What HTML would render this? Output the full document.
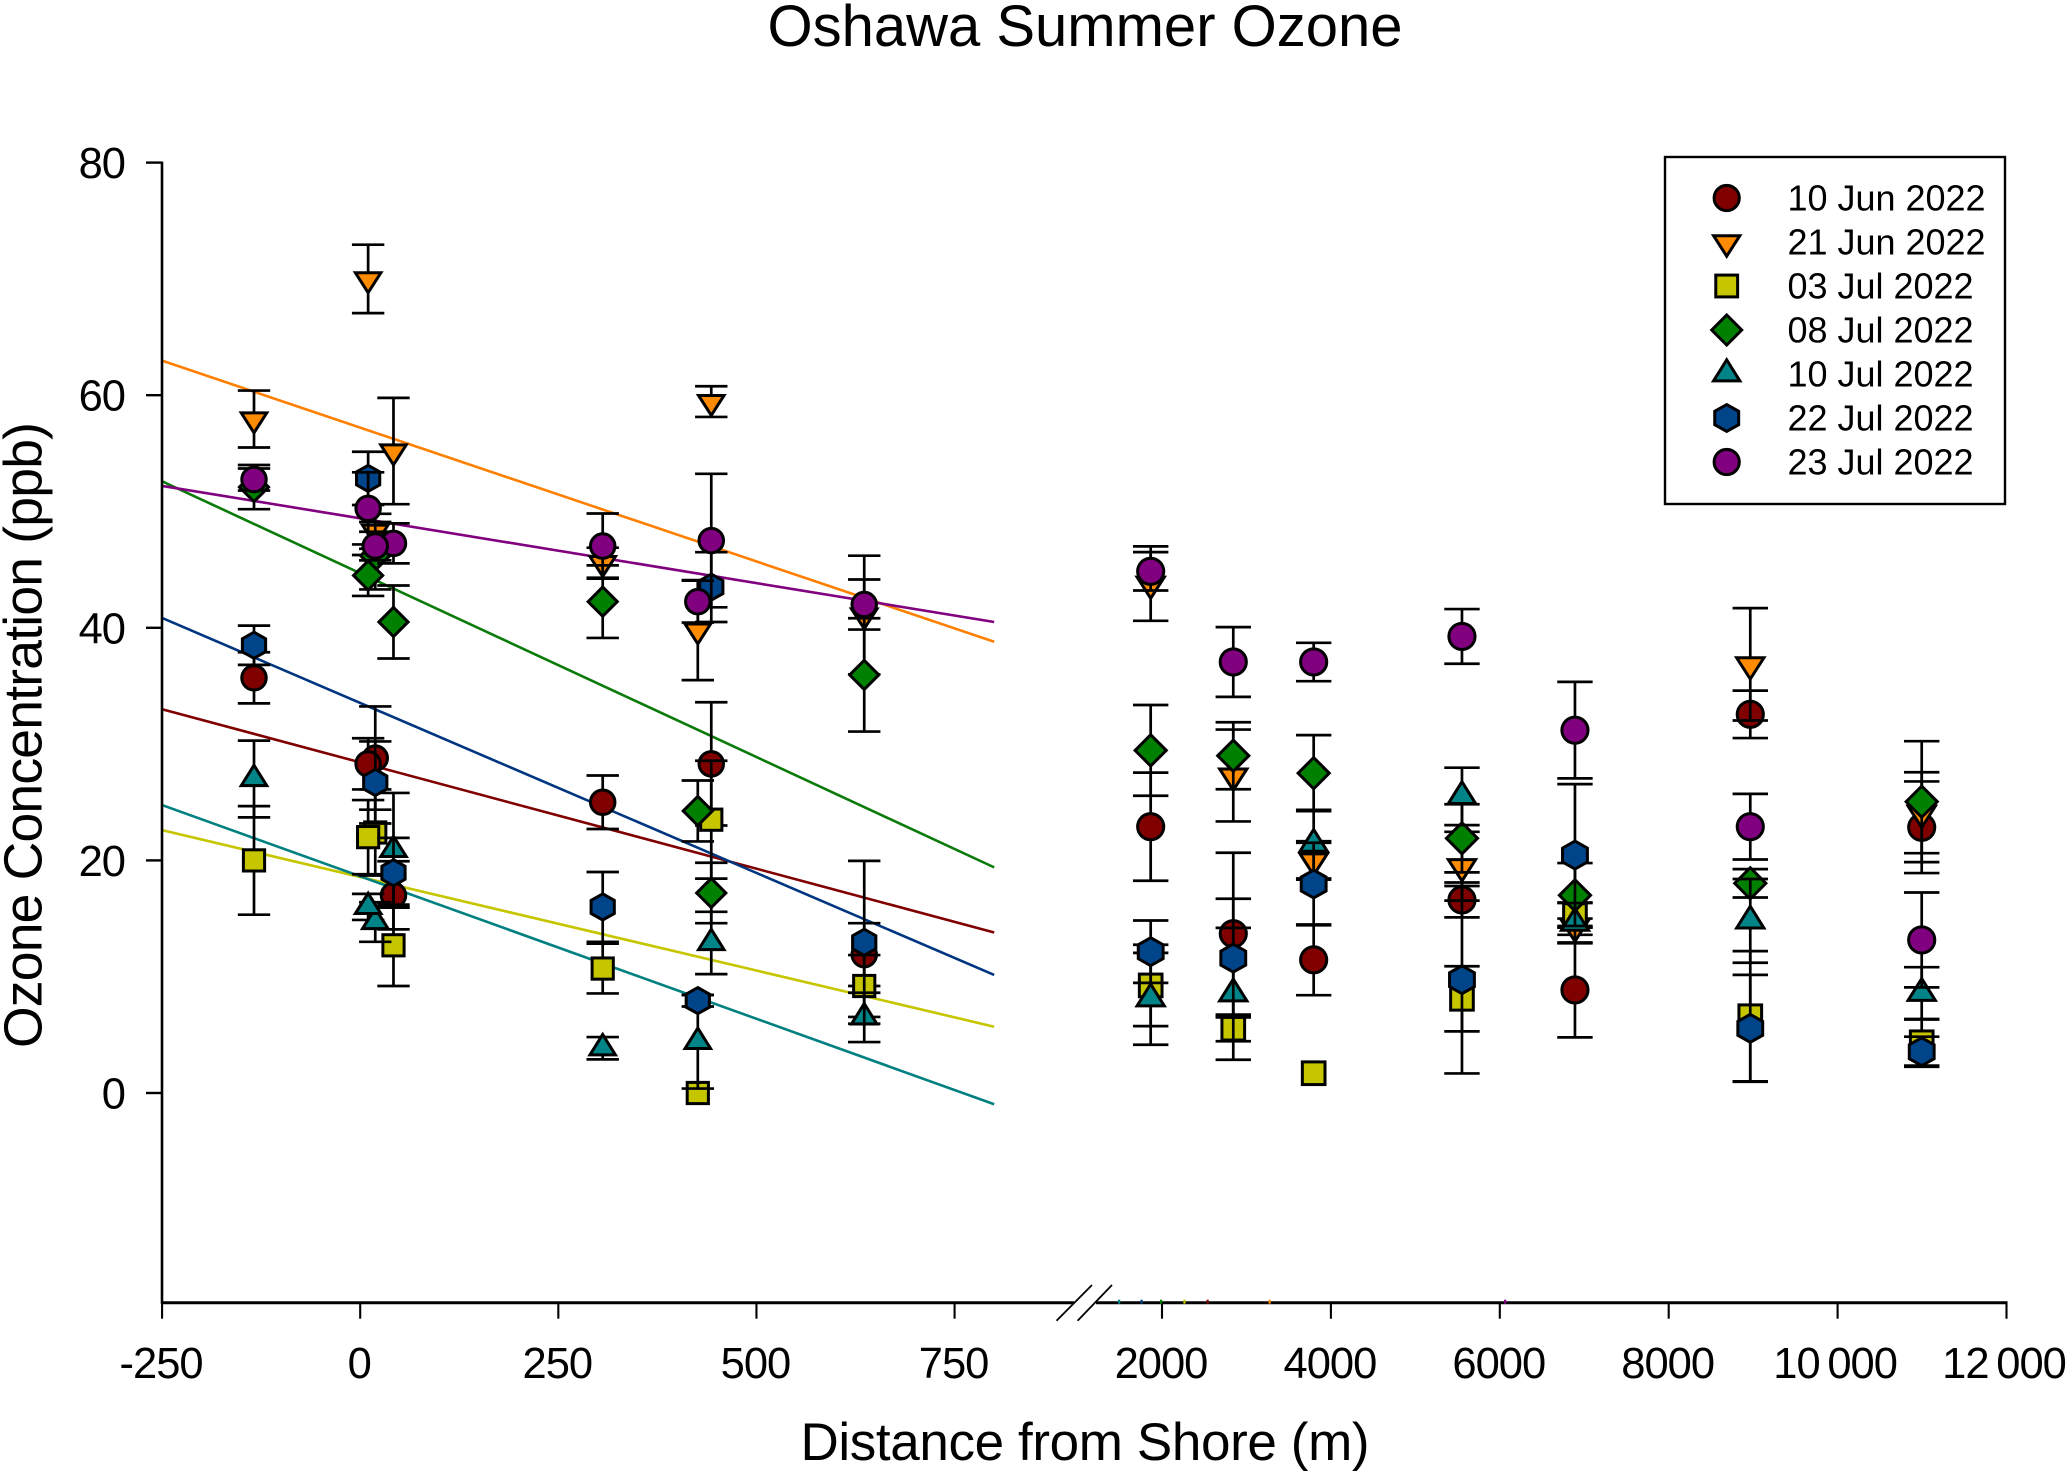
<!DOCTYPE html>
<html lang="en">
<head>
<meta charset="utf-8">
<title>Oshawa Summer Ozone</title>
<style>
html,body{margin:0;padding:0;background:#fff;}
svg{display:block;font-family:"Liberation Sans",Arial,sans-serif;}
</style>
</head>
<body>
<svg id="chart" xmlns="http://www.w3.org/2000/svg" width="2067" height="1472" viewBox="0 0 2067 1472">
  <rect x="0" y="0" width="2067" height="1472" fill="#fff"/>
  <text x="1085" y="46" font-size="58" text-anchor="middle" textLength="635">Oshawa Summer Ozone</text>
  <text transform="translate(41.5,735) rotate(-90)" font-size="53.5" text-anchor="middle" textLength="626">Ozone Concentration (ppb)</text>
  <text x="1085" y="1460" font-size="53" text-anchor="middle" textLength="569">Distance from Shore (m)</text>
  <g id="grid-lines"></g>
  <g id="points"></g>
  <g id="axes"></g>
  <g id="legend">
    <rect x="1665" y="157" width="340" height="347" fill="#fff" stroke="#000" stroke-width="2.4"/>
  </g>
</svg>
<script>
// ---- Data ----
const distances = [-134, 10, 19, 42, 306, 426, 443, 636, 1866, 2844, 3796, 5552, 6890, 8966, 10996];
const seriesNames = ['10 Jun 2022', '21 Jun 2022', '03 Jul 2022', '08 Jul 2022', '10 Jul 2022', '22 Jul 2022', '23 Jul 2022'];
const seriesKeys = ['jun-10', 'jun-21', 'jul-03', 'jul-08', 'jul-10', 'jul-22', 'jul-23'];
const seriesColors = ['#800000', '#ff8c00', '#c6c600', '#008000', '#008488', '#00448a', '#800080'];
const lineColors = ['#800000', '#ff8000', '#c6c600', '#0a7a0a', '#008080', '#00367f', '#800080'];
const seriesShapes = ['circle', 'down', 'square', 'diamond', 'up', 'hex', 'circle'];

const jun10 = [35.7, 28.3, 28.8, 17, 25, null, 28.3, 11.9, 22.9, 13.7, 11.45, 16.6, 8.86, 32.56, 22.85];
const jun10Err = [2.2, 2.2, 4.44, 2.93, 2.3, null, 5.3, 2.7, 4.65, 6.96, 3.04, 1.5, 4.08, 2.04, 3.94];
const jun21 = [57.95, 70, 48.3, 55.2, 45.6, 39.8, 59.45, 41.1, 43.8, 27.3, 20, 19.5, 14.3, 36.86, 24.1];
const jun21Err = [2.45, 2.94, 1.5, 4.57, 1.29, 4.3, 1.32, 5.1, 3.2, 3.95, 1.65, 2.96, 0.7, 4.83, 3.48];
const jul03 = [20, 22, 22.4, 12.7, 10.7, 0, 23.5, 9.2, 9.25, 5.53, 1.7, 8.1, 15.3, 6.6, 4.36];
const jul03Err = [4.67, 3.19, 3.7, 3.5, 2.14, 0, 5.07, 2.66, 3.5, 1.08, 0, 2.8, 1.08, 5.6, 2.0];
const jul08 = [52.1, 44.5, 46.2, 40.5, 42.25, 24.25, 17.2, 35.95, 29.46, 29, 27.5, 21.9, 17, 18.03, 25.05];
const jul08Err = [1.9, 1.76, 2.9, 3.14, 3.12, 2.62, 2.6, 4.87, 3.9, 2.88, 3.27, 2.93, 2.77, 1.22, 5.2];
const jul10 = [27, 16, 14.7, 20.9, 3.85, 4.4, 12.9, 6.5, 8.1, 8.53, 21.4, 25.5, 14.6, 14.8, 8.57];
const jul10Err = [3.3, 1.12, 1.7, 4.9, 0.96, 4.02, 2.68, 2.12, 3.95, 5.67, 2.95, 2.47, 1.73, 3.6, 2.25];
const jul22 = [38.5, 52.85, 26.7, 18.94, 16, 7.94, 43.5, 12.96, 12.15, 11.6, 17.97, 9.74, 20.46, 5.56, 3.55];
const jul22Err = [1.69, 2.29, 3.53, 3, 3, 0.5, 3, 7, 2.68, 5.1, 3.55, 8.06, 6.1, 4.6, 1.29];
const jul23 = [52.75, 50.27, 47.03, 47.26, 47.03, 42.25, 47.5, 42, 44.86, 37.06, 37.06, 39.26, 31.2, 22.9, 13.16];
const jul23Err = [0.95, 3.1, 1.23, 1.72, 2.8, 1.8, 5.74, 2.15, 1.65, 3, 1.65, 2.35, 4.15, 2.82, 4.08];

const trendFromX = -250;
const trendToX = 800;
const trendFromY = [33, 62.97, 22.6, 52.6, 24.76, 40.85, 52.2];
const trendToY = [13.8, 38.8, 5.7, 19.4, -0.97, 10.15, 40.5];
const axisMarks = [2539, 3273, 2265, 1988, 1491, 1757, 6062];

const yTicks = [0, 20, 40, 60, 80];
const xTicksNear = [-250, 0, 250, 500, 750];
const xTicksFar = [2000, 4000, 6000, 8000, 10000, 12000];
const xTickLabelsNear = ['-250', '0', '250', '500', '750'];
const xTickLabelsFar = ['2000', '4000', '6000', '8000', '10\u2009000', '12\u2009000'];

const allValues = [jun10, jun21, jul03, jul08, jul10, jul22, jul23];
const allErrors = [jun10Err, jun21Err, jul03Err, jul08Err, jul10Err, jul22Err, jul23Err];

// ---- Axis functions ----
const yScale = v => 1093 - v * 11.63;
const isNear = m => m <= 1000;
const xScale = m => isNear(m) ? 360.2 + m * 0.7925 : 1162 + (m - 2000) * 0.08445;

const NS = 'http://www.w3.org/2000/svg';
function make(tag, attrs, parent) {
  const el = document.createElementNS(NS, tag);
  for (const k in attrs) el.setAttribute(k, attrs[k]);
  parent.appendChild(el);
  return el;
}
function pts(list) { return list.map(p => p[0].toFixed(2) + ',' + p[1].toFixed(2)).join(' '); }
function drawSymbol(shape, cx, cy, fill, parent, k) {
  const base = { fill: fill, stroke: '#000', 'stroke-width': 3, 'stroke-linejoin': 'miter' };
  if (shape === 'circle') return make('circle', Object.assign({ cx: cx, cy: cy, r: 12 * k }, base), parent);
  if (shape === 'square') return make('rect', Object.assign({ x: cx - 10.4 * k, y: cy - 10.4 * k, width: 20.8 * k, height: 20.8 * k }, base), parent);
  let p;
  if (shape === 'down') p = [[-12.5, -6], [12.5, -6], [0, 13.5]];
  if (shape === 'up') p = [[-12.5, 6.5], [12.5, 6.5], [0, -13.5]];
  if (shape === 'diamond') p = [[-14.3, 0], [0, -14.3], [14.3, 0], [0, 14.3]];
  if (shape === 'hex') p = [[0, -12.8], [11.4, -6.4], [11.4, 6.4], [0, 12.8], [-11.4, 6.4], [-11.4, -6.4]];
  return make('polygon', Object.assign({ points: pts(p.map(q => [cx + q[0] * k, cy + q[1] * k])) }, base), parent);
}

// ---- Regression lines ----
const lineLayer = document.getElementById('grid-lines');
seriesKeys.forEach((key, s) => {
  const ln = make('line', { x1: xScale(trendFromX), y1: yScale(trendFromY[s]), x2: xScale(trendToX), y2: yScale(trendToY[s]), stroke: lineColors[s], 'stroke-width': 2.6 }, lineLayer);
  
  
});

// ---- Points with error bars: each series bars first, then its symbols (far sites first) ----
const pointLayer = document.getElementById('points');
const paintOrder = distances.map((d, i) => i).reverse();
seriesKeys.forEach((key, s) => {
  const g = make('g', {}, pointLayer);
  
  
  const vals = allValues[s], errs = allErrors[s];
  distances.forEach((d, i) => {
    if (vals[i] === null || errs[i] === 0) return;
    const x = xScale(d), hi = yScale(vals[i] + errs[i]), lo = yScale(vals[i] - errs[i]);
    const half = isNear(d) ? 16.2 : 17.7;
    const bar = make('path', { d: 'M' + x + ' ' + hi + 'V' + lo + 'M' + (x - half) + ' ' + hi + 'H' + (x + half) + 'M' + (x - half) + ' ' + lo + 'H' + (x + half), fill: 'none', stroke: '#000', 'stroke-width': 2.7 }, g);
    
    
  });
  paintOrder.forEach(i => {
    if (vals[i] === null) return;
    const sym = drawSymbol(seriesShapes[s], xScale(distances[i]), yScale(vals[i]), seriesColors[s], g, isNear(distances[i]) ? 1.02 : 1.09);
    
    
  });
});

// ---- Axes ----
const axes = document.getElementById('axes');
const axisBottom = 1302.7, tickLen = 16;
const yAxis = make('line', { x1: 162, y1: yScale(80) - 1, x2: 162, y2: axisBottom + 1, stroke: '#000', 'stroke-width': 2.6 }, axes);


const xAxisLeft = make('line', { x1: 161, y1: axisBottom, x2: 1074, y2: axisBottom, stroke: '#000', 'stroke-width': 3 }, axes);


const xAxisRight = make('line', { x1: 1096, y1: axisBottom, x2: 2007.5, y2: axisBottom, stroke: '#000', 'stroke-width': 3 }, axes);


const breakOne = make('line', { x1: 1056.5, y1: 1320.7, x2: 1092, y2: 1285, stroke: '#000', 'stroke-width': 1.8 }, axes);


const breakTwo = make('line', { x1: 1077.6, y1: 1320.7, x2: 1112, y2: 1285, stroke: '#000', 'stroke-width': 1.8 }, axes);



yTicks.forEach(t => {
  const tick = make('line', { x1: 146, y1: yScale(t), x2: 162, y2: yScale(t), stroke: '#000', 'stroke-width': 2.4 }, axes);
  
  
  const label = make('text', { x: 125, y: yScale(t) + 15.5, 'font-size': 43.5, 'letter-spacing': -1, 'text-anchor': 'end' }, axes);
  
  
  label.textContent = String(t);
});
function xTick(m, text, dx) {
  const x = xScale(m);
  const tick = make('line', { x1: x, y1: axisBottom, x2: x, y2: axisBottom + tickLen, stroke: '#000', 'stroke-width': 2.1 }, axes);
  
  
  const label = make('text', { x: x + dx, y: 1378, 'font-size': 43.5, 'letter-spacing': -1, 'text-anchor': 'middle' }, axes);
  
  
  label.textContent = text;
}
xTicksNear.forEach((t, i) => xTick(t, xTickLabelsNear[i], -1));
xTicksFar.forEach((t, i) => xTick(t, xTickLabelsFar[i], t >= 10000 ? -2.5 : -1));

axisMarks.forEach((m, s) => {
  const mark = make('rect', { x: xScale(m) - 1, y: axisBottom - 3, width: 2.2, height: 4, fill: seriesColors[s] }, axes);
  
  
});

// ---- Legend ----
const legend = document.getElementById('legend');
seriesNames.forEach((name, s) => {
  const rowY = 198 + s * 44;
  const sym = drawSymbol(seriesShapes[s], 1726.7, rowY, seriesColors[s], legend, 1.05);
  
  
  const isJun = name.indexOf('Jun') >= 0;
  const label = make('text', { x: 1787.5, y: rowY + 12.5, 'font-size': 36, textLength: isJun ? 198 : 186 }, legend);
  
  
  label.textContent = name;
});
</script>
</body>
</html>
